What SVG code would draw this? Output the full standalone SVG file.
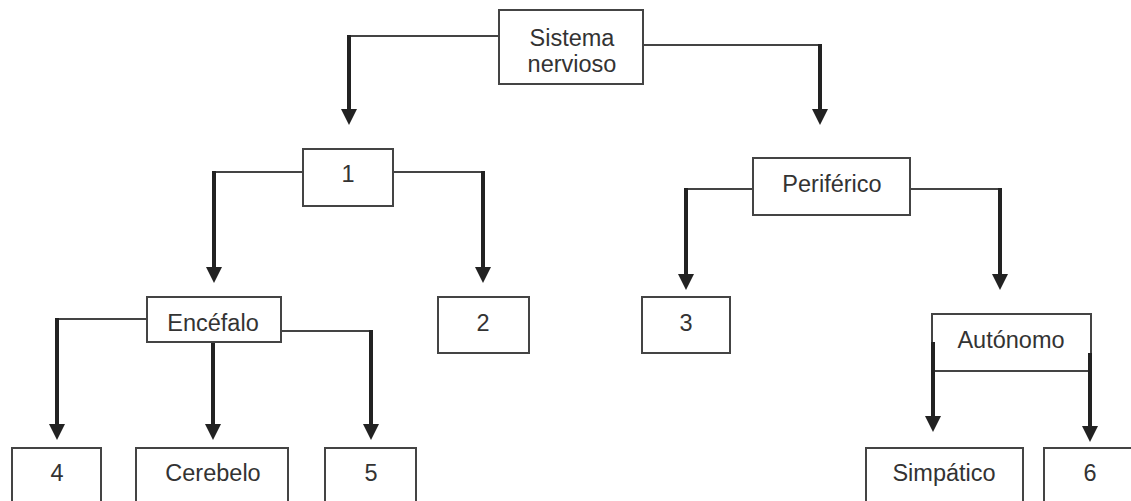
<svg xmlns="http://www.w3.org/2000/svg" width="1131" height="501" viewBox="0 0 1131 501">
<style>
.box{fill:#fff;stroke:#444;stroke-width:2}
.t{font-family:"Liberation Sans",Arial,sans-serif;font-size:23.5px;fill:#333;text-anchor:middle}
.h{fill:none;stroke:#444;stroke-width:2}
.v{fill:none;stroke:#222;stroke-width:4;marker-end:url(#ah)}
.c{fill:none;stroke:#222;stroke-width:4}
</style>
<defs>
<marker id="ah" viewBox="0 0 16 16" refX="2" refY="8" markerWidth="16" markerHeight="16" markerUnits="userSpaceOnUse" orient="auto">
<path d="M0,0 L16,8 L0,16 z" fill="#222"/>
</marker>
</defs>
<rect width="1131" height="501" fill="#fff"/>
<g id="connectors">
<path class="h" d="M499,36 H349"/><path class="v" d="M349,35 V111"/>
<path class="h" d="M643,45 H820"/><path class="v" d="M820,44 V111"/>
<path class="h" d="M303,172 H214"/><path class="v" d="M214,171 V269"/>
<path class="h" d="M393,172 H483"/><path class="v" d="M483,171 V269"/>
<path class="h" d="M753,189 H686"/><path class="v" d="M686,188 V276"/>
<path class="h" d="M910,189 H1000"/><path class="v" d="M1000,188 V276"/>
<path class="h" d="M147,319 H57"/><path class="v" d="M57,318 V426"/>
<path class="v" d="M213,342 V426"/>
<path class="h" d="M281,331 H371"/><path class="v" d="M371,330 V426"/>
</g>
<g id="n-sistema"><rect class="box" x="499" y="10" width="144" height="74"/><text class="t" x="572" y="46">Sistema</text><text class="t" x="572" y="72">nervioso</text></g>
<g id="n-1"><rect class="box" x="303" y="149" width="90" height="57"/><text class="t" x="348" y="182">1</text></g>
<g id="n-periferico"><rect class="box" x="753" y="158" width="157" height="57"/><text class="t" x="832" y="192">Periférico</text></g>
<g id="n-encefalo"><rect class="box" x="147" y="297" width="134" height="45"/><text class="t" x="213" y="331">Encéfalo</text></g>
<g id="n-2"><rect class="box" x="438" y="297" width="91" height="56"/><text class="t" x="483" y="331">2</text></g>
<g id="n-3"><rect class="box" x="642" y="297" width="88" height="56"/><text class="t" x="686" y="331">3</text></g>
<g id="n-autonomo"><rect class="box" x="932" y="314" width="159" height="57"/><text class="t" x="1011" y="348">Autónomo</text></g>
<g id="n-4"><rect class="box" x="12" y="448" width="89" height="70"/><text class="t" x="57" y="481">4</text></g>
<g id="n-cerebelo"><rect class="box" x="136" y="448" width="152" height="70"/><text class="t" x="213" y="481">Cerebelo</text></g>
<g id="n-5"><rect class="box" x="325" y="448" width="91" height="70"/><text class="t" x="371" y="481">5</text></g>
<g id="n-simpatico"><rect class="box" x="866" y="448" width="157" height="70"/><text class="t" x="944" y="481">Simpático</text></g>
<g id="n-6"><rect class="box" x="1044" y="448" width="100" height="70"/><text class="t" x="1090" y="481">6</text></g>
<g id="connectors-autonomo">
<path class="v" d="M933,342 V418"/>
<path class="v" d="M1090,353 V428"/>
</g>
</svg>
